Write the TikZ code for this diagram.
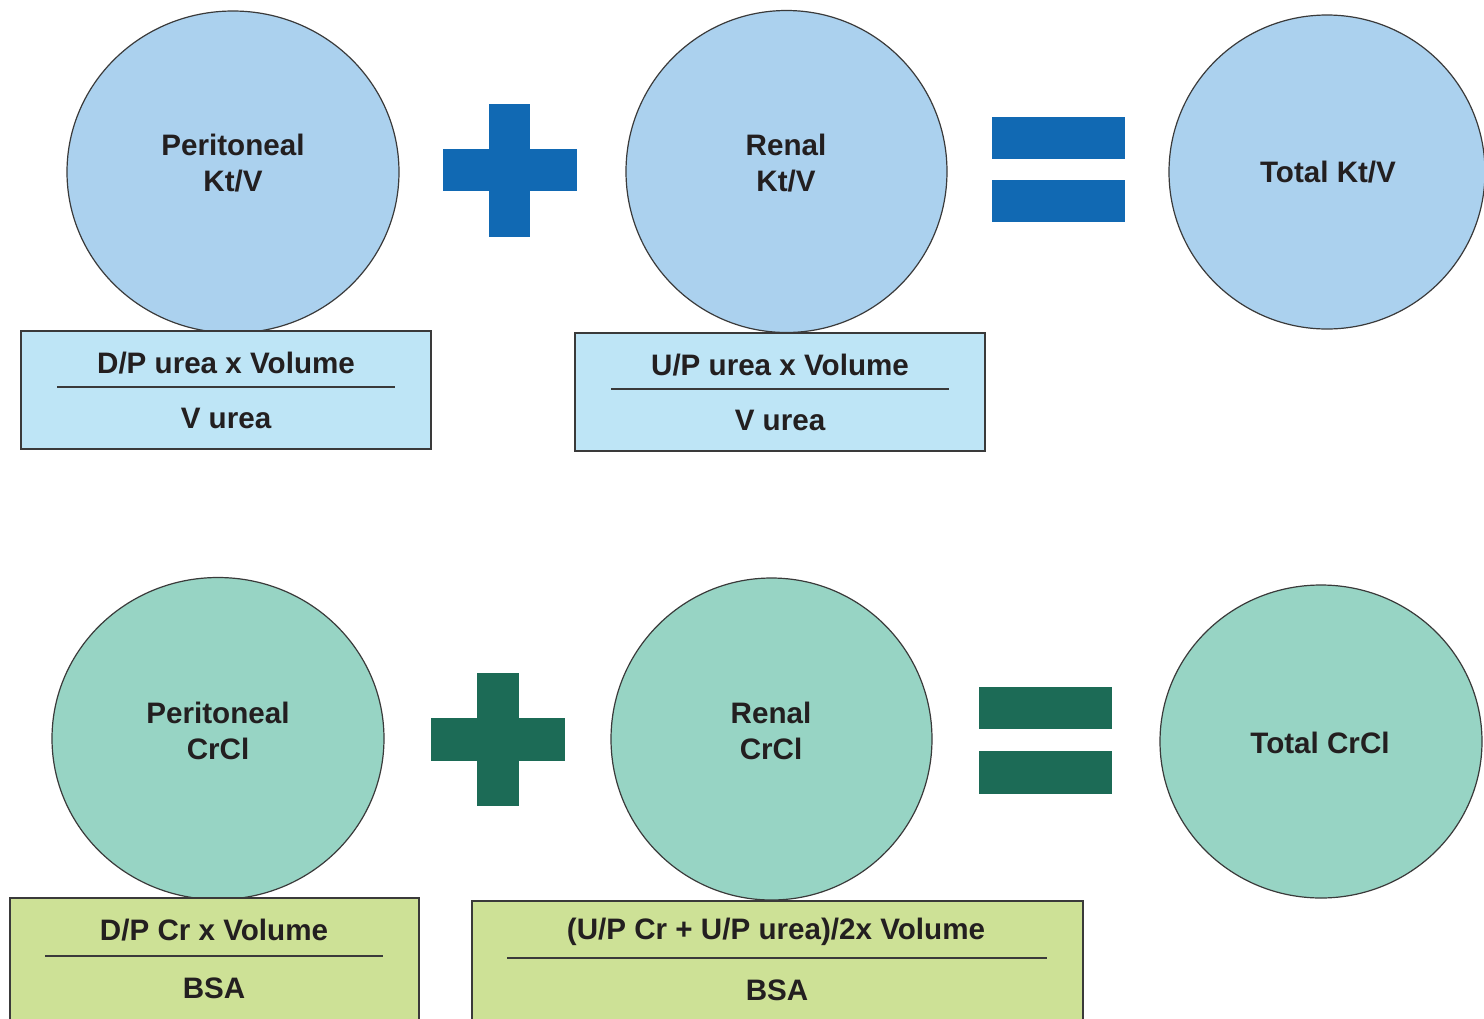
\documentclass[tikz,border=0pt]{standalone}
\usepackage{fontspec}
\setmainfont{Liberation Sans}
\usetikzlibrary{shapes.geometric}
\definecolor{circblue}{HTML}{ABD1EE}
\definecolor{boxblue}{HTML}{BEE5F6}
\definecolor{signblue}{HTML}{1169B3}
\definecolor{circgreen}{HTML}{97D4C4}
\definecolor{boxgreen}{HTML}{CDE196}
\definecolor{signgreen}{HTML}{1C6B56}
\definecolor{edge}{HTML}{3A3A3A}
\definecolor{ink}{HTML}{231F20}
\tikzset{
  bubble/.style={ellipse, draw=edge, line width=0.6pt, inner sep=0pt},
  formbox/.style={rectangle, draw=edge, line width=1pt, inner sep=0pt},
  lbl/.style={font=\fontsize{14.8}{18}\selectfont\bfseries, text=ink, align=center, inner sep=0pt},
  fracline/.style={draw=edge, line width=0.8pt},
}
\begin{document}
\begin{tikzpicture}[x=0.5pt,y=-0.5pt]
\clip (0,0) rectangle (1484,1018);
\fill[white] (0,0) rectangle (1484,1018);
% ---------- top row ----------
\node[bubble, fill=circblue, minimum width=166pt, minimum height=161pt] (c1) at (233,172) {};
\node[bubble, fill=circblue, minimum width=160.5pt, minimum height=161pt] (c2) at (786.5,171.5) {};
\node[bubble, fill=circblue, minimum width=158pt, minimum height=157pt] (c3) at (1327,172) {};
\node[lbl] (t1) at (233,163) {Peritoneal\\Kt/V};
\node[lbl] (t2) at (786,163) {Renal\\Kt/V};
\node[lbl] (t3) at (1328,172) {Total Kt/V};
% plus
\fill[signblue] (489,104) rectangle (530,237);
\fill[signblue] (443,149) rectangle (577,191);
% equals
\fill[signblue] (992,117) rectangle (1125,159);
\fill[signblue] (992,180) rectangle (1125,222);
% boxes
\node[formbox, fill=boxblue, minimum width=205pt, minimum height=59pt] (b1) at (226,390) {};
\node[formbox, fill=boxblue, minimum width=205pt, minimum height=59pt] (b2) at (780,392) {};
\draw[fracline] (57,387) -- (395,387);
\draw[fracline] (611,389) -- (949,389);
\node[lbl] (n1) at (226,363) {D/P urea x Volume};
\node[lbl] (d1) at (226,418) {V urea};
\node[lbl] (n2) at (780,365) {U/P urea x Volume};
\node[lbl] (d2) at (780,420) {V urea};
% ---------- bottom row ----------
\node[bubble, fill=circgreen, minimum width=166pt, minimum height=161pt] (c4) at (218,738.5) {};
\node[bubble, fill=circgreen, minimum width=160.5pt, minimum height=161pt] (c5) at (771.5,739) {};
\node[bubble, fill=circgreen, minimum width=161pt, minimum height=156.5pt] (c6) at (1321,741.5) {};
\node[lbl] (t4) at (218,731) {Peritoneal\\CrCl};
\node[lbl] (t5) at (771,731) {Renal\\CrCl};
\node[lbl] (t6) at (1320,743) {Total CrCl};
% plus
\fill[signgreen] (477,673) rectangle (519,806);
\fill[signgreen] (431,718) rectangle (565,761);
% equals
\fill[signgreen] (979,687) rectangle (1112,729);
\fill[signgreen] (979,751) rectangle (1112,794);
% boxes (run past the lower edge)
\node[formbox, fill=boxgreen, minimum width=204.5pt, minimum height=70pt] (b3) at (214.5,968) {};
\node[formbox, fill=boxgreen, minimum width=305.5pt, minimum height=70pt] (b4) at (777.5,971) {};
\draw[fracline] (45,956) -- (383,956);
\draw[fracline] (507,958) -- (1047,958);
\node[lbl] (n3) at (214,930) {D/P Cr x Volume};
\node[lbl] (d3) at (214,988) {BSA};
\node[lbl] (n4) at (776,932) {(U/P Cr + U/P urea)/2x Volume};
\node[lbl] (d4) at (777,990) {BSA};
\end{tikzpicture}
\end{document}
